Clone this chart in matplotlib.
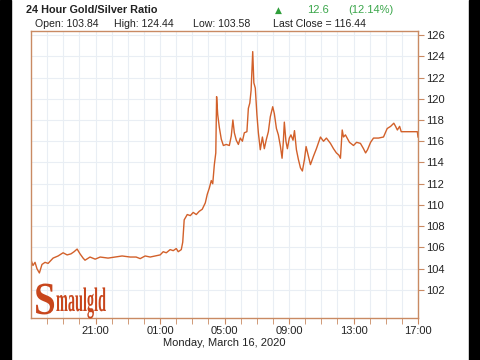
import matplotlib
matplotlib.use("Agg")
import matplotlib.pyplot as plt
from matplotlib.patches import Rectangle, PathPatch
from matplotlib.textpath import TextPath
from matplotlib.font_manager import FontProperties
from matplotlib.transforms import Affine2D
import numpy as np

# hours since 17:00 Sunday
hours = [0.03, 0.12, 0.25, 0.37, 0.52, 0.68, 0.87, 1.06, 1.37, 1.68, 1.99, 2.24, 2.48, 2.67,
         2.86, 3.04, 3.23, 3.35, 3.66, 3.98, 4.29, 4.78, 5.22, 5.65, 6.15, 6.52, 6.77, 7.08,
         7.39, 7.70, 8.01, 8.20, 8.39, 8.63, 8.82, 9.01, 9.13, 9.32, 9.41, 9.50, 9.69, 9.88,
         10.06, 10.25, 10.43, 10.62, 10.81, 10.93, 11.06, 11.18, 11.27, 11.37, 11.46, 11.51,
         11.58, 11.68, 11.80, 11.93, 12.11, 12.30, 12.42, 12.52, 12.61, 12.73, 12.86, 12.98,
         13.11, 13.23, 13.39, 13.48, 13.57, 13.65, 13.75, 13.82, 13.91, 14.01, 14.10, 14.22,
         14.35, 14.47, 14.60, 14.72, 14.84, 14.99, 15.09, 15.22, 15.34, 15.47, 15.57, 15.65,
         15.71, 15.81, 15.90, 16.02, 16.12, 16.25, 16.34, 16.46, 16.58, 16.71, 16.83, 16.96,
         17.06, 17.20, 17.33, 17.52, 17.70, 17.95, 18.14, 18.32, 18.57, 18.76, 18.94, 19.09,
         19.19, 19.30, 19.38, 19.50, 19.75, 20.00, 20.19, 20.43, 20.62, 20.75, 20.87, 21.06,
         21.24, 21.55, 21.86, 22.09, 22.30, 22.50, 22.61, 22.72, 22.86, 22.96, 23.96, 24.00]
ratio = [104.7, 104.3, 104.6, 104.0, 103.6, 104.4, 104.6, 104.5, 105.0, 105.2, 105.5, 105.3,
         105.4, 105.6, 105.85, 105.4, 105.0, 104.8, 105.1, 104.9, 105.1, 105.0, 105.1, 105.2,
         105.1, 105.1, 104.95, 105.2, 105.1, 105.2, 105.3, 105.6, 105.5, 105.8, 105.7, 105.9,
         105.6, 105.8, 106.5, 108.6, 109.1, 109.0, 109.3, 109.1, 109.4, 109.6, 110.2, 111.0,
         111.6, 112.3, 112.0, 113.8, 114.9, 120.2, 118.5, 117.3, 116.2, 115.6, 115.7, 115.6,
         116.5, 118.0, 116.8, 116.1, 115.7, 116.3, 116.0, 116.8, 116.9, 119.1, 119.6, 120.8,
         124.44, 121.5, 121.0, 118.5, 116.8, 115.2, 116.4, 115.3, 116.2, 116.9, 118.3, 119.25,
         118.6, 117.2, 116.6, 115.5, 114.4, 116.0, 117.8, 116.0, 115.3, 116.3, 116.6, 116.1,
         117.0, 115.2, 114.3, 113.5, 113.2, 114.3, 115.5, 114.6, 113.8, 114.6, 115.3, 116.4,
         116.0, 116.3, 115.8, 115.3, 114.9, 114.7, 114.4, 117.06, 116.4, 116.6, 115.9, 115.6,
         115.9, 115.8, 115.3, 114.9, 115.2, 115.9, 116.3, 116.3, 116.4, 117.2, 117.4, 117.7,
         117.4, 117.06, 117.4, 116.9, 116.9, 116.4]

xtick_pos = [4, 8, 12, 16, 20, 24]
xtick_labels = ["21:00", "01:00", "05:00", "09:00", "13:00", "17:00"]
ytick_vals = [102, 104, 106, 108, 110, 112, 114, 116, 118, 120, 122, 124, 126]

frame_c = "#c98a63"
line_c = "#d2602a"
grid_c = "#e9eef4"
txt_c = "#222222"
plt.rcParams['font.family'] = ['Liberation Sans', 'DejaVu Sans']

fig = plt.figure(figsize=(4.8, 3.6), dpi=100)
W, H = 480, 360
ax = fig.add_axes([31 / W, 1 - 318 / H, (418 - 31) / W, (318 - 31) / H])
ax.plot(hours, ratio, color=line_c, lw=1.0)
ax.set_xlim(0, 24)
ax.set_ylim(99.36, 126.38)

ax.set_xticks(xtick_pos)
ax.set_xticklabels(xtick_labels)
ax.set_xticks(np.arange(1, 24), minor=True)
ax.set_yticks(ytick_vals)
ax.yaxis.tick_right()
ax.tick_params(axis='x', which='both', direction='out', length=4, color=frame_c,
               labelsize=8, labelcolor=txt_c, pad=2)
ax.tick_params(axis='y', direction='out', length=4, color=frame_c, labelsize=8,
               labelcolor=txt_c, pad=2)
for s in ax.spines.values():
    s.set_color(frame_c)
    s.set_linewidth(1.0)
ax.grid(True, which='both', axis='x', color=grid_c, lw=0.8)
ax.grid(True, which='major', axis='y', color=grid_c, lw=0.8)
ax.set_axisbelow(True)
ax.set_xlabel("Monday, March 16, 2020", fontsize=8, color=txt_c, labelpad=1)

# header
fig.text(26 / W, 1 - 10 / H, "24 Hour Gold/Silver Ratio", fontsize=7.8, fontweight='bold',
         color=txt_c, va='center', ha='left')
fig.text(278 / W, 1 - 10.5 / H, "\u25B2", fontsize=6.5, color="#2e9e3a", va='center', ha='center',
         family='DejaVu Sans')
fig.text(307 / W, 1 - 10 / H, "12.6", fontsize=8, color="#3aa64a", va='center', ha='left')
fig.text(348 / W, 1 - 10 / H, "(12.14%)", fontsize=8, color="#3aa64a", va='center', ha='left')
row2 = [(35, "Open: 103.84"), (114, "High: 124.44"), (193, "Low: 103.58"), (273, "Last Close = 116.44")]
for x, s in row2:
    fig.text(x / W, 1 - 24 / H, s, fontsize=7.6, color=txt_c, va='center', ha='left')

# logo
logo_c = "#c8461c"
fp = FontProperties(family='Liberation Serif', weight='bold')
pS = TextPath((0, 0), "S", size=46, prop=fp)
pS = Affine2D().scale(0.85, 1.0).translate(34, 360 - 314).transform_path(pS)
fig.patches.append(PathPatch(pS, color=logo_c, lw=0, transform=None))
pm = TextPath((0, 0), "maulgld", size=34, prop=fp)
pm = Affine2D().scale(0.42, 1.0).translate(56, 360 - 311).transform_path(pm)
fig.patches.append(PathPatch(pm, color=logo_c, lw=0, transform=None))

# black side bars
fig.patches.append(Rectangle((0, 0), 11 / W, 1, transform=fig.transFigure, color='black', zorder=10))
fig.patches.append(Rectangle((469 / W, 0), 11 / W, 1, transform=fig.transFigure, color='black', zorder=10))

fig.savefig("out.png", dpi=100)
